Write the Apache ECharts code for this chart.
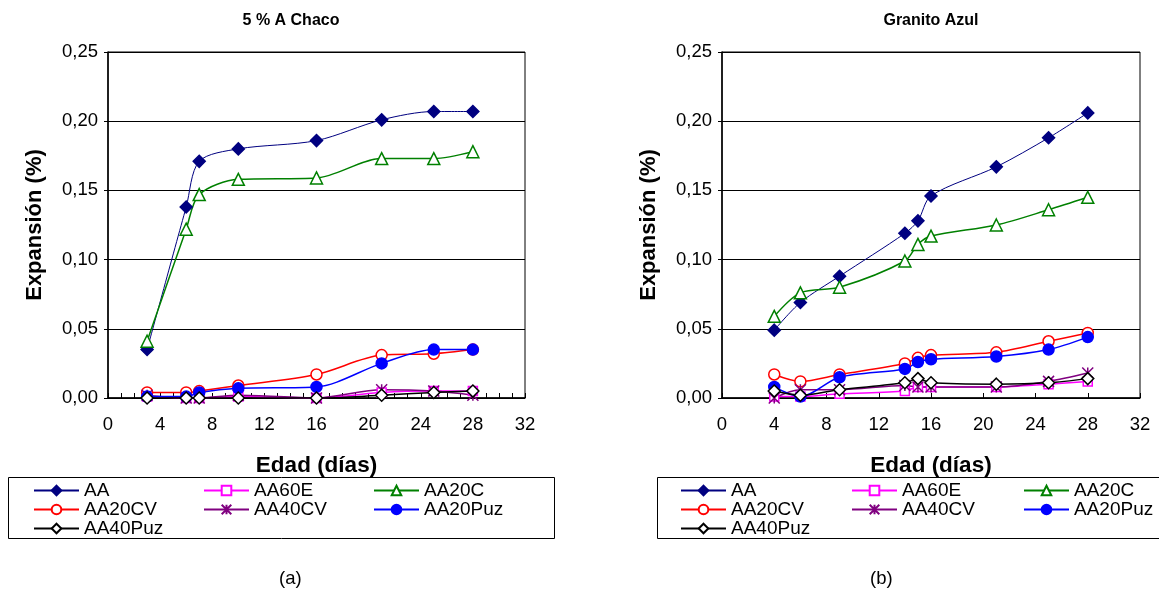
<!DOCTYPE html>
<html><head><meta charset="utf-8">
<script src="https://cdn.jsdelivr.net/npm/echarts@6/dist/echarts.min.js"></script>
<style>html,body{margin:0;padding:0;background:#fff}#c{width:1159px;height:596px}</style>
</head><body><div id="c"></div>
<script>
const seriesNames = ['AA','AA60E','AA20C','AA20CV','AA40CV','AA20Puz','AA40Puz'];

const chacoDays = [3,6,7,10,16,21,25,28];
const chacoAA      = [0.035,0.138,0.171,0.180,0.186,0.201,0.207,0.207];
const chacoAA60E   = [0.001,0.000,0.000,0.001,0.000,0.004,0.005,0.005];
const chacoAA20C   = [0.041,0.122,0.147,0.158,0.159,0.173,0.173,0.178];
const chacoAA20CV  = [0.004,0.004,0.005,0.009,0.017,0.031,0.032,0.035];
const chacoAA40CV  = [0.002,0.000,0.000,0.002,0.000,0.006,0.005,0.002];
const chacoAA20Puz = [0.001,0.001,0.004,0.007,0.008,0.025,0.035,0.035];
const chacoAA40Puz = [0.000,0.000,0.000,0.000,0.000,0.002,0.004,0.005];

const granDays = [4,6,9,14,15,16,21,25,28];
const granAA      = [0.049,0.069,0.088,0.119,0.128,0.146,0.167,0.188,0.206];
const granAA60E   = [0.001,0.001,0.003,0.005,0.008,0.008,0.008,0.010,0.012];
const granAA20C   = [0.059,0.076,0.080,0.099,0.111,0.117,0.125,0.136,0.145];
const granAA20CV  = [0.017,0.012,0.017,0.025,0.029,0.031,0.033,0.041,0.047];
const granAA40CV  = [0.000,0.006,0.006,0.009,0.008,0.008,0.008,0.012,0.018];
const granAA20Puz = [0.008,0.001,0.015,0.021,0.026,0.028,0.030,0.035,0.044];
const granAA40Puz = [0.005,0.002,0.006,0.011,0.014,0.011,0.010,0.011,0.014];

const chartTitles = ['5 % A Chaco','Granito Azul'];
const panelLabels = ['(a)','(b)'];
const xTitle = 'Edad (días)';
const yTitle = 'Expansión (%)';

const FONT = 'Liberation Sans, Arial, sans-serif';
const STAR = 'path://M0,0L10,10M10,0L0,10M5,0L5,10';

const styles = {
  'AA':      {color:'#000080', symbol:'diamond', size:12, fill:'#000080', lw:1},
  'AA60E':   {color:'#FF00FF', symbol:'rect', size:9, fill:'#fff', lw:1.5},
  'AA20C':   {color:'#008000', symbol:'triangle', size:12, fill:'#fff', lw:1.5},
  'AA20CV':  {color:'#FF0000', symbol:'circle', size:11, fill:'#fff', lw:1.5},
  'AA40CV':  {color:'#800080', symbol:STAR, size:11, fill:'none', lw:1.5},
  'AA20Puz': {color:'#0000FF', symbol:'circle', size:11, fill:'#0000FF', lw:1.5},
  'AA40Puz': {color:'#000000', symbol:'diamond', size:12, fill:'#fff', lw:1.5}
};

const chacoVals = [chacoAA,chacoAA60E,chacoAA20C,chacoAA20CV,chacoAA40CV,chacoAA20Puz,chacoAA40Puz];
const granVals = [granAA,granAA60E,granAA20C,granAA20CV,granAA40CV,granAA20Puz,granAA40Puz];

function mk(name, days, vals, idx){
  const s = styles[name];
  return {
    name: name, type:'line', xAxisIndex: idx, yAxisIndex: idx,
    data: days.map((d,i)=>[d, vals[i]]),
    smooth: 0.3,
    symbol: s.symbol, symbolSize: s.size,
    showAllSymbol: true,
    lineStyle: {color: s.color, width: s.lw},
    itemStyle: {color: s.fill, borderColor: s.color, borderWidth: 1.5},
    emphasis: {disabled: true},
    animation: false
  };
}

const series = [];
seriesNames.forEach((n,i)=>series.push(mk(n, chacoDays, chacoVals[i], 0)));
seriesNames.forEach((n,i)=>series.push(mk(n, granDays, granVals[i], 1)));

function xAx(gi, minor){
  return {
    type:'value', gridIndex: gi, min:0, max:32, interval:4,
    name: xTitle, nameLocation:'middle', nameGap: 56,
    nameTextStyle:{fontFamily:FONT, fontSize:22.5, fontWeight:'bold', color:'#000'},
    axisLine:{show:true, lineStyle:{color:'#000', width:1.5}},
    axisTick:{show:true, inside:true, length:5, lineStyle:{color:'#000'}},
    minorTick:{show:minor, splitNumber:4, length:5, lineStyle:{color:'#000'}},
    splitLine:{show:false},
    axisLabel:{fontFamily:FONT, fontSize:18.5, color:'#000', margin:17}
  };
}
function yAx(gi){
  return {
    type:'value', gridIndex: gi, min:0, max:0.25, interval:0.05,
    name: yTitle, nameLocation:'middle', nameGap: 62, nameRotate: 90,
    nameTextStyle:{fontFamily:FONT, fontSize:22, fontWeight:'bold', color:'#000'},
    axisLine:{show:true, lineStyle:{color:'#000', width:1.5}},
    axisTick:{show:true, inside:false, length:4, lineStyle:{color:'#000'}},
    splitLine:{show:true, lineStyle:{color:'#000', width:1}},
    axisLabel:{fontFamily:FONT, fontSize:18.5, color:'#000', margin:10,
      formatter: v => v.toFixed(2).replace('.', ',')}
  };
}

const legendCols = [['AA','AA20CV','AA40Puz'],['AA60E','AA40CV'],['AA20C','AA20Puz']];
const legendLeft = [[33,203,373],[680,851,1023]];
const legends = [];
legendLeft.forEach(lefts=>{
  lefts.forEach((lx,ci)=>{
    legends.push({
      data: legendCols[ci], orient:'vertical', left: lx, top: 481,
      itemWidth: 45, itemHeight: 12, itemGap: 0,
      selectedMode: false,
      textStyle:{fontFamily:FONT, fontSize:19, color:'#000', lineHeight:18, padding:[0,0,0,0]},
      padding: 0
    });
  });
});

const option = {
  backgroundColor:'#fff',
  animation:false,
  title:[
    {text: chartTitles[0], left: 286, top: 8, textAlign:'center',
     textStyle:{fontFamily:FONT, fontSize:16, fontWeight:'bold', color:'#000'}},
    {text: chartTitles[1], left: 926, top: 8, textAlign:'center',
     textStyle:{fontFamily:FONT, fontSize:16, fontWeight:'bold', color:'#000'}}
  ],
  grid:[
    {left:108, top:52, width:417, height:346, show:true, borderColor:'#000', borderWidth:1, backgroundColor:'transparent'},
    {left:722, top:52, width:418, height:346, show:true, borderColor:'#000', borderWidth:1, backgroundColor:'transparent'}
  ],
  xAxis:[xAx(0,true), xAx(1,false)],
  yAxis:[yAx(0), yAx(1)],
  legend: legends,
  series: series,
  graphic:[
    {type:'rect', shape:{x:8.5, y:477.5, width:546, height:61}, style:{fill:'none', stroke:'#000', lineWidth:1}, silent:true, z:-1},
    {type:'rect', shape:{x:657.5, y:477.5, width:520, height:61}, style:{fill:'none', stroke:'#000', lineWidth:1}, silent:true, z:-1},
    {type:'text', left: 279, top: 569, style:{text: panelLabels[0], font:'18.5px Liberation Sans, Arial', fill:'#000'}},
    {type:'text', left: 870, top: 569, style:{text: panelLabels[1], font:'18.5px Liberation Sans, Arial', fill:'#000'}}
  ]
};

const chart = echarts.init(document.getElementById('c'), null, {renderer:'canvas'});
chart.setOption(option);
</script>
</body></html>
